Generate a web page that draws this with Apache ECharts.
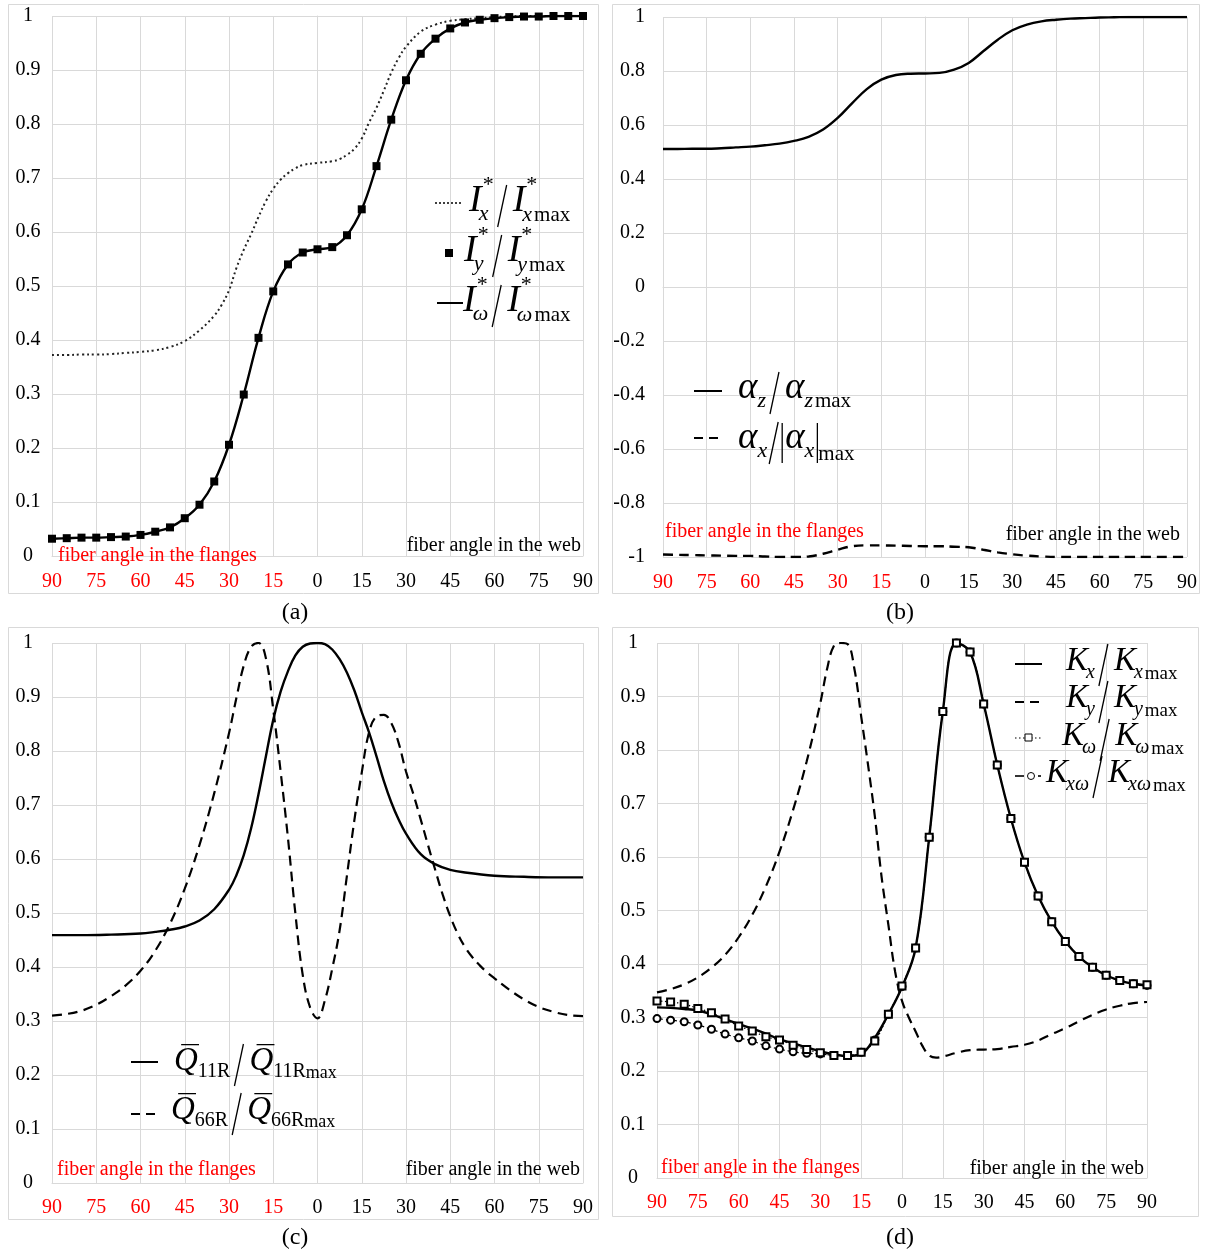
<!DOCTYPE html>
<html><head><meta charset="utf-8">
<script src="https://cdn.jsdelivr.net/npm/echarts@6/dist/echarts.min.js"></script>
<style>html,body{margin:0;padding:0;background:#fff}#c{width:1206px;height:1254px}</style>
</head><body><div id="c"></div>
<script>
// ---------- data ----------
const xTicks = [-90,-75,-60,-45,-30,-15,0,15,30,45,60,75,90];
const angles = [-90,-85,-80,-75,-70,-65,-60,-55,-50,-45,-40,-35,-30,-25,-20,-15,-10,-5,0,5,10,15,20,25,30,35,40,45,50,55,60,65,70,75,80,85,90];

// (a)
const ixAngles = [-90,-85,-80,-75,-70,-65,-60,-55,-50,-45,-40,-35,-32.5,-30,-27.5,-25,-22.5,-20,-17.5,-15,-12.5,-10,-7.5,-5,0,5,7.5,10,12.5,15,17.5,20,22.5,25,27.5,30,35,40,45,50,55,60,65,70,75,80,85,90];
const ixValues = [0.372,0.372,0.373,0.373,0.374,0.376,0.378,0.381,0.387,0.398,0.418,0.445,0.465,0.492,0.533,0.567,0.596,0.628,0.657,0.68,0.697,0.709,0.718,0.724,0.728,0.731,0.735,0.743,0.754,0.773,0.803,0.83,0.862,0.895,0.922,0.943,0.971,0.984,0.991,0.994,0.996,0.998,0.999,1,1,1,1,1];
const iyValues = [0.032,0.033,0.034,0.034,0.035,0.036,0.039,0.045,0.053,0.07,0.095,0.138,0.206,0.299,0.404,0.49,0.54,0.562,0.568,0.572,0.594,0.642,0.722,0.808,0.881,0.93,0.958,0.977,0.988,0.993,0.996,0.998,0.999,0.999,1,1,1];
const iwValues = [0.032,0.033,0.034,0.034,0.035,0.036,0.039,0.045,0.053,0.07,0.095,0.138,0.206,0.299,0.404,0.49,0.54,0.562,0.568,0.572,0.594,0.642,0.722,0.808,0.881,0.93,0.958,0.977,0.988,0.993,0.996,0.998,0.999,0.999,1,1,1];

// (b)
const azValues = [0.511,0.511,0.512,0.512,0.514,0.517,0.52,0.525,0.531,0.541,0.556,0.583,0.626,0.681,0.733,0.768,0.785,0.79,0.791,0.793,0.805,0.83,0.873,0.916,0.951,0.972,0.984,0.99,0.994,0.996,0.998,0.999,1,1,1,1,1];
const axValues = [-0.991,-0.992,-0.993,-0.994,-0.995,-0.996,-0.996,-0.998,-1,-1,-0.998,-0.988,-0.973,-0.96,-0.957,-0.957,-0.958,-0.959,-0.96,-0.96,-0.962,-0.964,-0.973,-0.983,-0.99,-0.995,-0.998,-1,-1,-1,-1,-1,-1,-1,-1,-1,-1];

// (c)
const q11Angles = [-90,-80,-70,-60,-55,-50,-45,-40,-35,-30,-27.5,-25,-22.5,-20,-17.5,-15,-12.5,-10,-7.5,-5,-2.5,0,2.5,5,7.5,10,12.5,15,17.5,20,22.5,25,27.5,30,35,40,45,50,60,70,80,90];
const q11Values = [0.459,0.459,0.46,0.462,0.465,0.469,0.475,0.486,0.507,0.543,0.57,0.607,0.657,0.72,0.79,0.858,0.91,0.948,0.977,0.993,0.999,1.0,0.998,0.988,0.97,0.945,0.912,0.872,0.834,0.79,0.744,0.705,0.673,0.647,0.609,0.59,0.58,0.575,0.569,0.567,0.566,0.566];
const q66Angles = [-90,-85,-80,-75,-70,-65,-60,-55,-50,-45,-40,-35,-30,-27.5,-25,-22.5,-20,-17.5,-15,-12.5,-10,-7.5,-5,-2.5,0,2.5,5,7.5,10,12.5,15,17.5,20,22.5,25,27.5,30,32.5,35,37.5,40,42.5,45,47.5,50,52.5,55,57.5,60,65,70,75,80,85,90];
const q66Values = [0.31,0.313,0.319,0.33,0.346,0.366,0.393,0.43,0.48,0.545,0.626,0.722,0.833,0.898,0.958,0.993,1.0,0.972,0.877,0.762,0.638,0.499,0.385,0.325,0.305,0.338,0.397,0.468,0.57,0.672,0.76,0.835,0.864,0.867,0.852,0.815,0.762,0.72,0.673,0.625,0.578,0.533,0.494,0.462,0.437,0.418,0.403,0.39,0.379,0.358,0.34,0.326,0.317,0.311,0.309];

// (d)
const kxValues = [0.319,0.318,0.316,0.313,0.306,0.297,0.288,0.279,0.27,0.259,0.252,0.244,0.237,0.231,0.228,0.232,0.262,0.306,0.357,0.43,0.637,0.872,1.0,0.983,0.886,0.772,0.672,0.59,0.527,0.479,0.442,0.414,0.394,0.379,0.369,0.363,0.36];
const kwValues = [0.331,0.329,0.325,0.317,0.309,0.297,0.284,0.275,0.264,0.258,0.248,0.24,0.234,0.229,0.229,0.235,0.256,0.306,0.359,0.43,0.637,0.872,1.0,0.983,0.886,0.772,0.672,0.59,0.527,0.479,0.442,0.414,0.394,0.379,0.369,0.363,0.361];
const kxwValues = [0.298,0.295,0.292,0.286,0.278,0.269,0.262,0.256,0.247,0.241,0.236,0.233,0.232,0.229,0.229,0.235,0.258,0.306,0.358,0.43,0.637,0.872,1.0,0.983,0.886,0.772,0.672,0.59,0.527,0.479,0.442,0.414,0.394,0.379,0.369,0.363,0.36];
const kyAngles = [-90,-85,-80,-75,-70,-65,-60,-55,-50,-45,-40,-35,-30,-27.5,-25,-22.5,-20,-17.5,-15,-12.5,-10,-7.5,-5,-2.5,0,2.5,5,7.5,10,12.5,15,20,25,30,35,40,45,50,55,60,65,70,75,80,85,90];
const kyValues = [0.347,0.353,0.362,0.375,0.393,0.417,0.45,0.492,0.545,0.61,0.688,0.779,0.888,0.952,0.995,1.0,0.998,0.952,0.863,0.773,0.677,0.563,0.473,0.385,0.331,0.3,0.274,0.247,0.229,0.225,0.227,0.234,0.239,0.24,0.241,0.245,0.249,0.257,0.269,0.28,0.293,0.305,0.315,0.322,0.327,0.329];

// ---------- helpers ----------
const FF = '"Liberation Serif","Times New Roman",serif';
const GRIDC = '#d9d9d9';
const ctx = document.createElement('canvas').getContext('2d');
function fnt(s, it){ return (it ? 'italic ' : '') + s + 'px ' + FF; }
function tw(t, s, it){ ctx.font = fnt(s, it); return ctx.measureText(t).width; }
function T(t, x, yB, s, it, color){
  return {type:'text', x:x, y:yB - 0.34*s, z:100,
    style:{text:t, font:fnt(s,it), fill:color||'#000', align:'left', verticalAlign:'middle'}};
}
function L(x1,y1,x2,y2,w,dash){
  return {type:'line', z:100, shape:{x1,y1,x2,y2}, style:{stroke:'#000', lineWidth:w||1.4, lineDash:dash||null}};
}
function mathRow(x, yB, parts, out){
  let cx = x;
  for (const p of parts){
    if (p.slash){
      cx += (p.gl==null?2:p.gl);
      out.push(L(cx, yB + p.down, cx + p.w, yB - p.up, 1.3));
      cx += p.w + (p.gr==null?3:p.gr);
    } else if (p.vbar){
      cx += (p.gl==null?2:p.gl);
      out.push(L(cx, yB + p.down, cx, yB - p.up, 1.3));
      cx += (p.gr==null?3:p.gr);
    } else if (p.stack){
      let w = 0;
      for (const seq of p.stack){
        let sx = cx;
        for (const q of seq){ sx += q.dx||0; out.push(T(q.t, sx, yB+(q.dy||0), q.s, q.i)); sx += tw(q.t,q.s,q.i); }
        w = Math.max(w, sx - cx);
      }
      cx += w;
    } else {
      cx += p.dx||0;
      out.push(T(p.t, cx, yB+(p.dy||0), p.s, p.i));
      const w = tw(p.t, p.s, p.i);
      if (p.bar){ out.push(L(cx + 0.3*w, yB - 0.86*p.s, cx + 1.05*w, yB - 0.86*p.s, 1.3)); }
      cx += w;
    }
  }
}
const SL = {slash:1, w:9, up:29, down:13, gl:4, gr:6};

const g = [];
// panel frames
[[8,4,590,589],[612,4,587,589],[8,627,590,592],[612,627,586,589]].forEach(r=>{
  g.push({type:'rect', shape:{x:r[0]+0.5,y:r[1]+0.5,width:r[2],height:r[3]}, style:{fill:null, stroke:GRIDC, lineWidth:1}, z:0});
});
// captions
[['(a)',295,613],['(b)',900,613],['(c)',295,1238],['(d)',900,1238]].forEach(c=>{
  g.push({type:'text', x:c[1], y:c[2], z:100, style:{text:c[0], font:'24px '+FF, fill:'#000', align:'center', verticalAlign:'middle'}});
});
// axis annotations
function ann(t, x, y, align, color){
  g.push({type:'text', x:x, y:y, z:100, style:{text:t, font:'20px '+FF, fill:color, align:align, verticalAlign:'middle'}});
}
ann('fiber angle in the flanges', 58, 556, 'left', '#ff0000');
ann('fiber angle in the web', 581, 546, 'right', '#000');
ann('fiber angle in the flanges', 665, 532, 'left', '#ff0000');
ann('fiber angle in the web', 1180, 535, 'right', '#000');
ann('fiber angle in the flanges', 57, 1170, 'left', '#ff0000');
ann('fiber angle in the web', 580, 1170, 'right', '#000');
ann('fiber angle in the flanges', 661, 1168, 'left', '#ff0000');
ann('fiber angle in the web', 1144, 1169, 'right', '#000');

// legend (a)
g.push(L(435,203,461,203,1.6,[2,2]));
g.push({type:'rect', z:100, shape:{x:445,y:249,width:8,height:8}, style:{fill:'#000'}});
g.push(L(437,303,463,303,2));
function aRow(x, yB, s){
  mathRow(x, yB, [
    {t:'I',s:38,i:1},
    {stack:[[{t:'*',s:22,dy:-21,dx:1}],[{t:s,s:22,i:1,dy:8,dx:-3}]]},
    SL,
    {t:'I',s:38,i:1},
    {stack:[[{t:'*',s:22,dy:-21,dx:1}],[{t:s,s:22,i:1,dy:9,dx:-3},{t:'max',s:21,dy:9,dx:2}]]}
  ], g);
}
aRow(469,214,'x'); aRow(464,264,'y'); aRow(463,314,'\u03c9');

// legend (b)
g.push(L(694,391,722,391,2));
g.push(L(694,438,722,438,2,[9,6]));
mathRow(738, 401, [{t:'\u03b1',s:37,i:1},{t:'z',s:22,i:1,dy:8},SL,{t:'\u03b1',s:37,i:1},{t:'z',s:22,i:1,dy:8},{t:'max',s:21,dy:8,dx:2}], g);
mathRow(738, 451, [{t:'\u03b1',s:37,i:1},{t:'x',s:22,i:1,dy:8},{slash:1,w:9,up:29,down:13,gl:2,gr:3},{vbar:1,up:28,down:12,gl:1,gr:3},{t:'\u03b1',s:37,i:1},{t:'x',s:22,i:1,dy:8},{vbar:1,up:28,down:12,gl:3,gr:1},{t:'max',s:21,dy:11}], g);

// legend (c)
g.push(L(131,1062,158,1062,2));
g.push(L(131,1114,158,1114,2,[9,6]));
function cRow(x, yB, s){
  mathRow(x, yB, [{t:'Q',s:33,i:1,bar:1},{t:s+'R',s:20,dy:6},SL,{t:'Q',s:33,i:1,bar:1},{t:s+'R',s:20,dy:6},{t:'max',s:18,dy:6}], g);
}
cRow(174,1073,'11'); cRow(171,1122,'66');

// legend (d)
g.push(L(1015,664,1042,664,2));
g.push(L(1015,702,1042,702,2,[9,6]));
g.push(L(1015,738,1042,738,1.2,[1.5,2.5]));
g.push({type:'rect', z:101, shape:{x:1025,y:734,width:7,height:7}, style:{fill:'#fff', stroke:'#000', lineWidth:1}});
g.push(L(1015,776,1024,776,1.6));
g.push({type:'circle', z:101, shape:{cx:1031,cy:776,r:3.5}, style:{fill:'#fff', stroke:'#000', lineWidth:1}});
g.push(L(1038,776,1041,776,1.6));
function dRow(x, yB, s){
  mathRow(x, yB, [{t:'K',s:33,i:1},{t:s,s:20,i:1,dy:7,dx:-2},SL,{t:'K',s:33,i:1},{t:s,s:20,i:1,dy:7,dx:-2},{t:'max',s:19,dy:7,dx:2}], g);
}
dRow(1066,673,'x'); dRow(1066,710,'y'); dRow(1062,748,'\u03c9'); dRow(1046,785,'x\u03c9');

// ---------- axes ----------
function xAx(i, margin){
  return {type:'value', gridIndex:i, min:-90, max:90, interval:15,
    axisLine:{show:true, lineStyle:{color:GRIDC, width:1}}, axisTick:{show:false},
    splitLine:{show:true, lineStyle:{color:GRIDC, width:1}},
    axisLabel:{margin:margin, fontSize:20, fontFamily:FF, verticalAlign:'middle',
      formatter:v=>String(Math.abs(v)), color:v=> (v<0 ? '#ff0000' : '#000')}};
}
function yAx(i, min, max, step, align, margin){
  return {type:'value', gridIndex:i, min:min, max:max, interval:step,
    axisLine:{show:true, lineStyle:{color:GRIDC, width:1}}, axisTick:{show:false},
    splitLine:{show:true, lineStyle:{color:GRIDC, width:1}},
    axisLabel:{margin:margin, fontSize:20, fontFamily:FF, color:'#000', align:align,
      formatter:v=>String(parseFloat(v.toFixed(1)))}};
}
const zip = (xs, ys) => xs.map((x,k)=>[x, ys[k]]);
function lineS(i, data, style, extra){
  return Object.assign({type:'line', xAxisIndex:i, yAxisIndex:i, data:data, smooth:0.4, showSymbol:false,
    lineStyle:style, itemStyle:{color:'#000'}, silent:true, animation:false}, extra||{});
}

const option = {
  animation:false,
  backgroundColor:'#fff',
  grid:[
    {left:52, top:16, width:531, height:540},
    {left:663, top:17, width:524, height:540},
    {left:52, top:643, width:531, height:540},
    {left:657, top:643, width:490, height:535}
  ],
  xAxis:[xAx(0,26), xAx(1,26), xAx(2,25), xAx(3,25)],
  yAxis:[yAx(0,0,1,0.1,'center',24), yAx(1,-1,1,0.2,'right',18), yAx(2,0,1,0.1,'center',24), yAx(3,0,1,0.1,'center',24)],
  series:[
    lineS(0, zip(ixAngles, ixValues), {color:'#222', width:2, type:[2,3]}),
    lineS(0, zip(angles, iwValues), {color:'#000', width:2.4}),
    {type:'scatter', xAxisIndex:0, yAxisIndex:0, data:zip(angles, iyValues), symbol:'rect', symbolSize:8, itemStyle:{color:'#000', opacity:1}, silent:true, z:5},
    lineS(1, zip(angles, azValues), {color:'#000', width:2.4}),
    lineS(1, zip(angles, axValues), {color:'#000', width:2.4, type:[10,6]}),
    lineS(2, zip(q11Angles, q11Values), {color:'#000', width:2.4}),
    lineS(2, zip(q66Angles, q66Values), {color:'#000', width:2.2, type:[10,6]}),
    lineS(3, zip(angles, kxwValues), {color:'#000', width:1.2, type:[6,3,2,3]}, {showSymbol:true, showAllSymbol:true, symbol:'emptyCircle', symbolSize:7}),
    lineS(3, zip(angles, kxValues), {color:'#000', width:2.4}),
    lineS(3, zip(kyAngles, kyValues), {color:'#000', width:2.2, type:[10,6]}),
    lineS(3, zip(angles, kwValues), {color:'#000', width:1.2, type:[1.5,2.5]}, {showSymbol:true, showAllSymbol:true, symbol:'emptyRect', symbolSize:7})
  ],
  graphic:g
};
const chart = echarts.init(document.getElementById('c'), null, {renderer:'canvas'});
chart.setOption(option);
</script>
</body></html>
